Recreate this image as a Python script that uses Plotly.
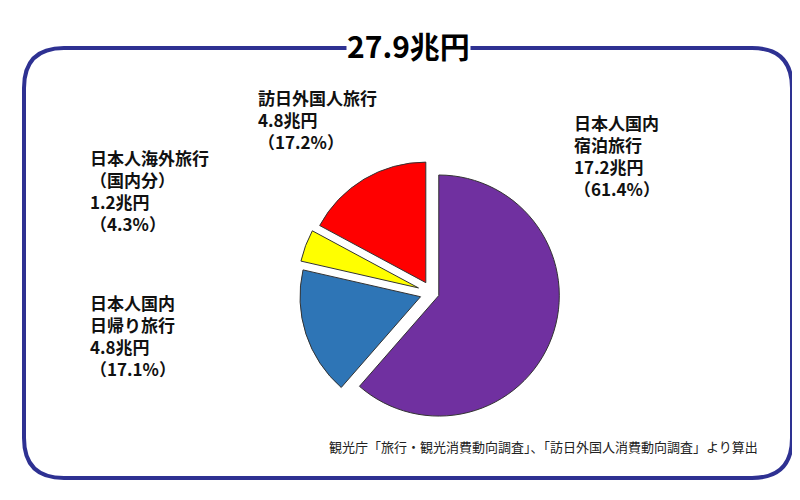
import plotly.graph_objects as go

# Data
labels = ['日本人国内<br>宿泊旅行', '日本人国内<br>日帰り旅行', '日本人海外旅行<br>（国内分）', '訪日外国人旅行']
values = [17.2, 4.8, 1.2, 4.8]
shares = ['61.4%', '17.1%', '4.3%', '17.2%']
colors = ['#7030A0', '#2E75B6', '#FFFF00', '#FF0000']
total = '27.9兆円'
source = '観光庁「旅行・観光消費動向調査」、「訪日外国人消費動向調査」より算出'

FONT = 'Noto Sans CJK JP'

fig = go.Figure(go.Pie(
    labels=labels,
    values=values,
    sort=False,
    direction='clockwise',
    rotation=0,
    pull=[0.06, 0.1, 0.12, 0.1],
    marker=dict(colors=colors, line=dict(color='#333333', width=1)),
    textinfo='none',
    hoverinfo='label+value+percent',
    showlegend=False,
    domain=dict(x=[0.3, 0.76], y=[0.16, 0.7]),
))

# rounded frame
x0, x1, y0, y1, r = 0.02, 0.98, 0.06, 0.92, 0.05
ry = r * 800 / 500
path = (f'M {x0+r},{y1} L {x1-r},{y1} Q {x1},{y1} {x1},{y1-ry} '
        f'L {x1},{y0+ry} Q {x1},{y0} {x1-r},{y0} L {x0+r},{y0} '
        f'Q {x0},{y0} {x0},{y0+ry} L {x0},{y1-ry} Q {x0},{y1} {x0+r},{y1} Z')
fig.add_shape(type='path', path=path, xref='paper', yref='paper',
              line=dict(color='#2E3192', width=4), layer='below')

annotations = [
    dict(x=0.5, y=0.925, text=f'<b>{total}</b>', font=dict(size=30, color='black'),
         bgcolor='white', borderpad=0, yanchor='middle'),
    dict(x=0.705, y=0.8, text=f'<b>{labels[0]}<br>{values[0]}兆円<br>（{shares[0]}）</b>',
         xanchor='left', yanchor='top', align='left'),
    dict(x=0.1, y=0.44, text=f'<b>{labels[1]}<br>{values[1]}兆円<br>（{shares[1]}）</b>',
         xanchor='left', yanchor='top', align='left'),
    dict(x=0.1, y=0.73, text=f'<b>{labels[2]}<br>{values[2]}兆円<br>（{shares[2]}）</b>',
         xanchor='left', yanchor='top', align='left'),
    dict(x=0.31, y=0.85, text=f'<b>{labels[3]}<br>{values[3]}兆円<br>（{shares[3]}）</b>',
         xanchor='left', yanchor='top', align='left'),
    dict(x=0.94, y=0.1, text=source, xanchor='right', yanchor='bottom',
         font=dict(size=13, color='#222222')),
]
for a in annotations:
    a.setdefault('font', dict(size=17, color='#111111'))
    a.update(xref='paper', yref='paper', showarrow=False)

fig.update_layout(
    width=800, height=500,
    margin=dict(l=0, r=0, t=0, b=0),
    paper_bgcolor='white',
    font=dict(family=FONT),
    annotations=annotations,
)

fig.write_html('out.html')
